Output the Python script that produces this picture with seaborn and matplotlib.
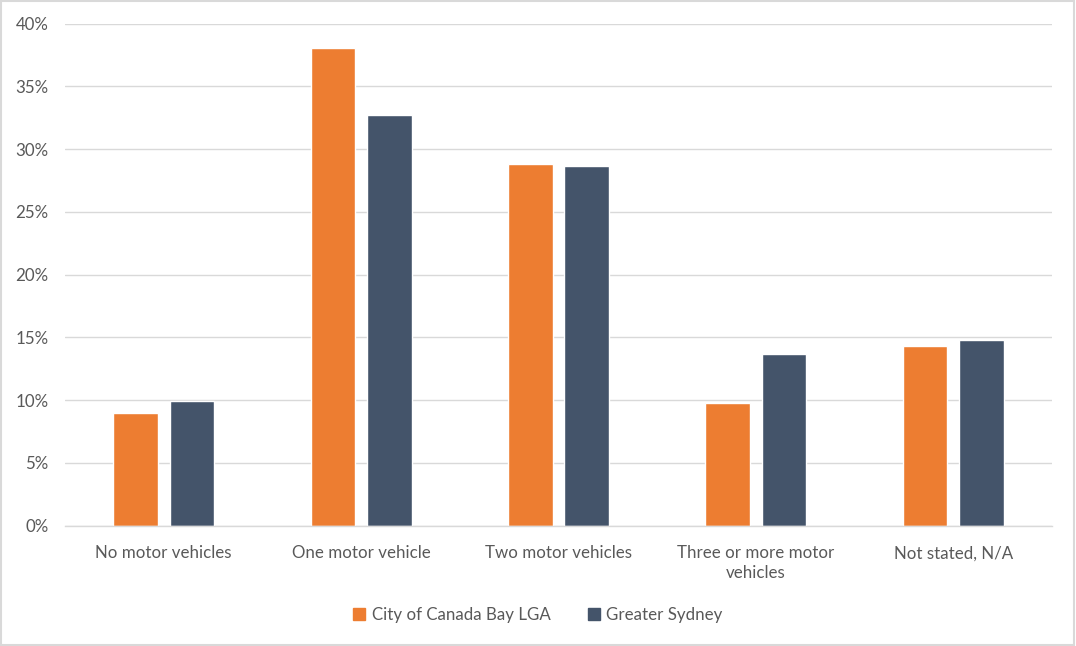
import matplotlib
matplotlib.use("Agg")
import matplotlib.pyplot as plt
import seaborn as sns
import pandas as pd
from matplotlib.patches import Rectangle
from matplotlib.ticker import PercentFormatter

categories = ["No motor vehicles", "One motor vehicle", "Two motor vehicles",
              "Three or more motor\nvehicles", "Not stated, N/A"]
canada_bay = [9.0, 38.1, 28.8, 9.8, 14.3]
greater_sydney = [9.9, 32.7, 28.7, 13.7, 14.8]
series_names = ["City of Canada Bay LGA", "Greater Sydney"]
colors = ["#ED7D31", "#44546A"]

df = pd.DataFrame({
    "category": categories * 2,
    "value": canada_bay + greater_sydney,
    "series": [series_names[0]] * 5 + [series_names[1]] * 5,
})

sns.set_style("white")
plt.rcParams["font.family"] = ["Lato", "DejaVu Sans"]
text_col = "#595959"
grid_col = "#D9D9D9"

fig = plt.figure(figsize=(10.76, 6.46), dpi=100)
ax = fig.add_axes([65 / 1076, 1 - 525.7 / 646, (1052 - 65) / 1076, (525.7 - 23.7) / 646])

sns.barplot(data=df, x="category", y="value", hue="series", palette=colors,
            width=0.572, gap=0.21, ax=ax, legend=False, saturation=1)

ax.set_ylim(0, 40)
ax.set_xlim(-0.5, 4.5)
ax.set_yticks(range(0, 41, 5))
ax.yaxis.set_major_formatter(PercentFormatter(decimals=0))
ax.set_xlabel("")
ax.set_ylabel("")
ax.grid(axis="y", color=grid_col, linewidth=1)
ax.set_axisbelow(True)
for s in ["top", "right", "left"]:
    ax.spines[s].set_visible(False)
ax.spines["bottom"].set_color(grid_col)
ax.spines["bottom"].set_linewidth(1)
ax.tick_params(axis="both", length=0, labelsize=12.2, colors=text_col, pad=12)
ax.tick_params(axis="x", pad=14)
for lbl in ax.get_xticklabels():
    lbl.set_linespacing(1.3)

handles = [Rectangle((0, 0), 1, 1, color=c) for c in colors]
fig.legend(handles, series_names, loc="center", bbox_to_anchor=(0.5, 1 - 615 / 646),
           ncol=2, frameon=False, fontsize=12.2, handlelength=0.7, handleheight=0.7,
           handletextpad=0.4, columnspacing=2.2, labelcolor=text_col)

fig.patches.append(Rectangle((0.0005, 0.0008), 0.998, 0.998, transform=fig.transFigure,
                             fill=False, edgecolor=grid_col, linewidth=1.5))

fig.savefig("out.png", dpi=100)
